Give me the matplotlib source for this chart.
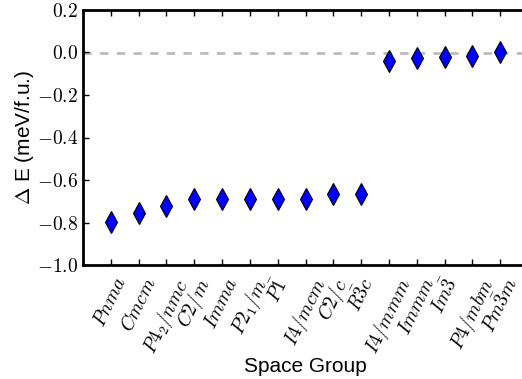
import matplotlib
matplotlib.use("Agg")
import matplotlib.pyplot as plt
from matplotlib.ticker import FuncFormatter, MultipleLocator

plt.rcParams["mathtext.fontset"] = "cm"
plt.rcParams["font.family"] = ["Liberation Sans", "DejaVu Sans"]

groups = [r"$Pnma$", r"$Cmcm$", r"$P4_2/nmc$", r"$C2/m$", r"$Imma$",
          r"$P2_1/m$", r"$P\bar{1}$", r"$I4/mcm$", r"$C2/c$", r"$R\bar{3}c$",
          r"$I4/mmm$", r"$Immm$", r"$Im\bar{3}$", r"$P4/mbm$", r"$Pm\bar{3}m$"]
dE = [-0.796, -0.757, -0.721, -0.689, -0.689, -0.689, -0.689, -0.689,
      -0.667, -0.667, -0.038, -0.026, -0.023, -0.016, 0.001]

fig = plt.figure(figsize=(5.22, 3.79), dpi=100)
# axes runs slightly past the right edge of the figure
ax = fig.add_axes([83 / 522, 1 - 265 / 379, 445 / 522, 255 / 379])

x = list(range(1, len(groups) + 1))
ax.axhline(0.0, color="#bbbbbb", ls="--", lw=2, dashes=(3, 3), zorder=1)
ax.plot(x, dE, "d", color="blue", mec="black", mew=0.8, ms=11, zorder=3)

ax.set_xlim(0, 16)
ax.set_ylim(-1.0, 0.2)
ax.set_xticks(x)
ax.set_xticklabels(groups, rotation=64, ha="center", fontsize=14)
ax.yaxis.set_major_locator(MultipleLocator(0.2))
ax.yaxis.set_major_formatter(FuncFormatter(lambda v, p: r"$%.1f$" % v))
ax.tick_params(axis="y", labelsize=14)
ax.tick_params(axis="x", pad=7)
ax.tick_params(direction="in", top=True, right=True, length=4, width=1)
for s in ax.spines.values():
    s.set_linewidth(2)

ax.set_xlabel("Space Group", fontsize=15)
ax.set_ylabel(r"$\Delta$ E (meV/f.u.)", fontsize=15)
ax.xaxis.set_label_coords(0.5, -0.36)
ax.yaxis.set_label_coords(-0.105, 0.5)

fig.savefig("out.png", dpi=100)
